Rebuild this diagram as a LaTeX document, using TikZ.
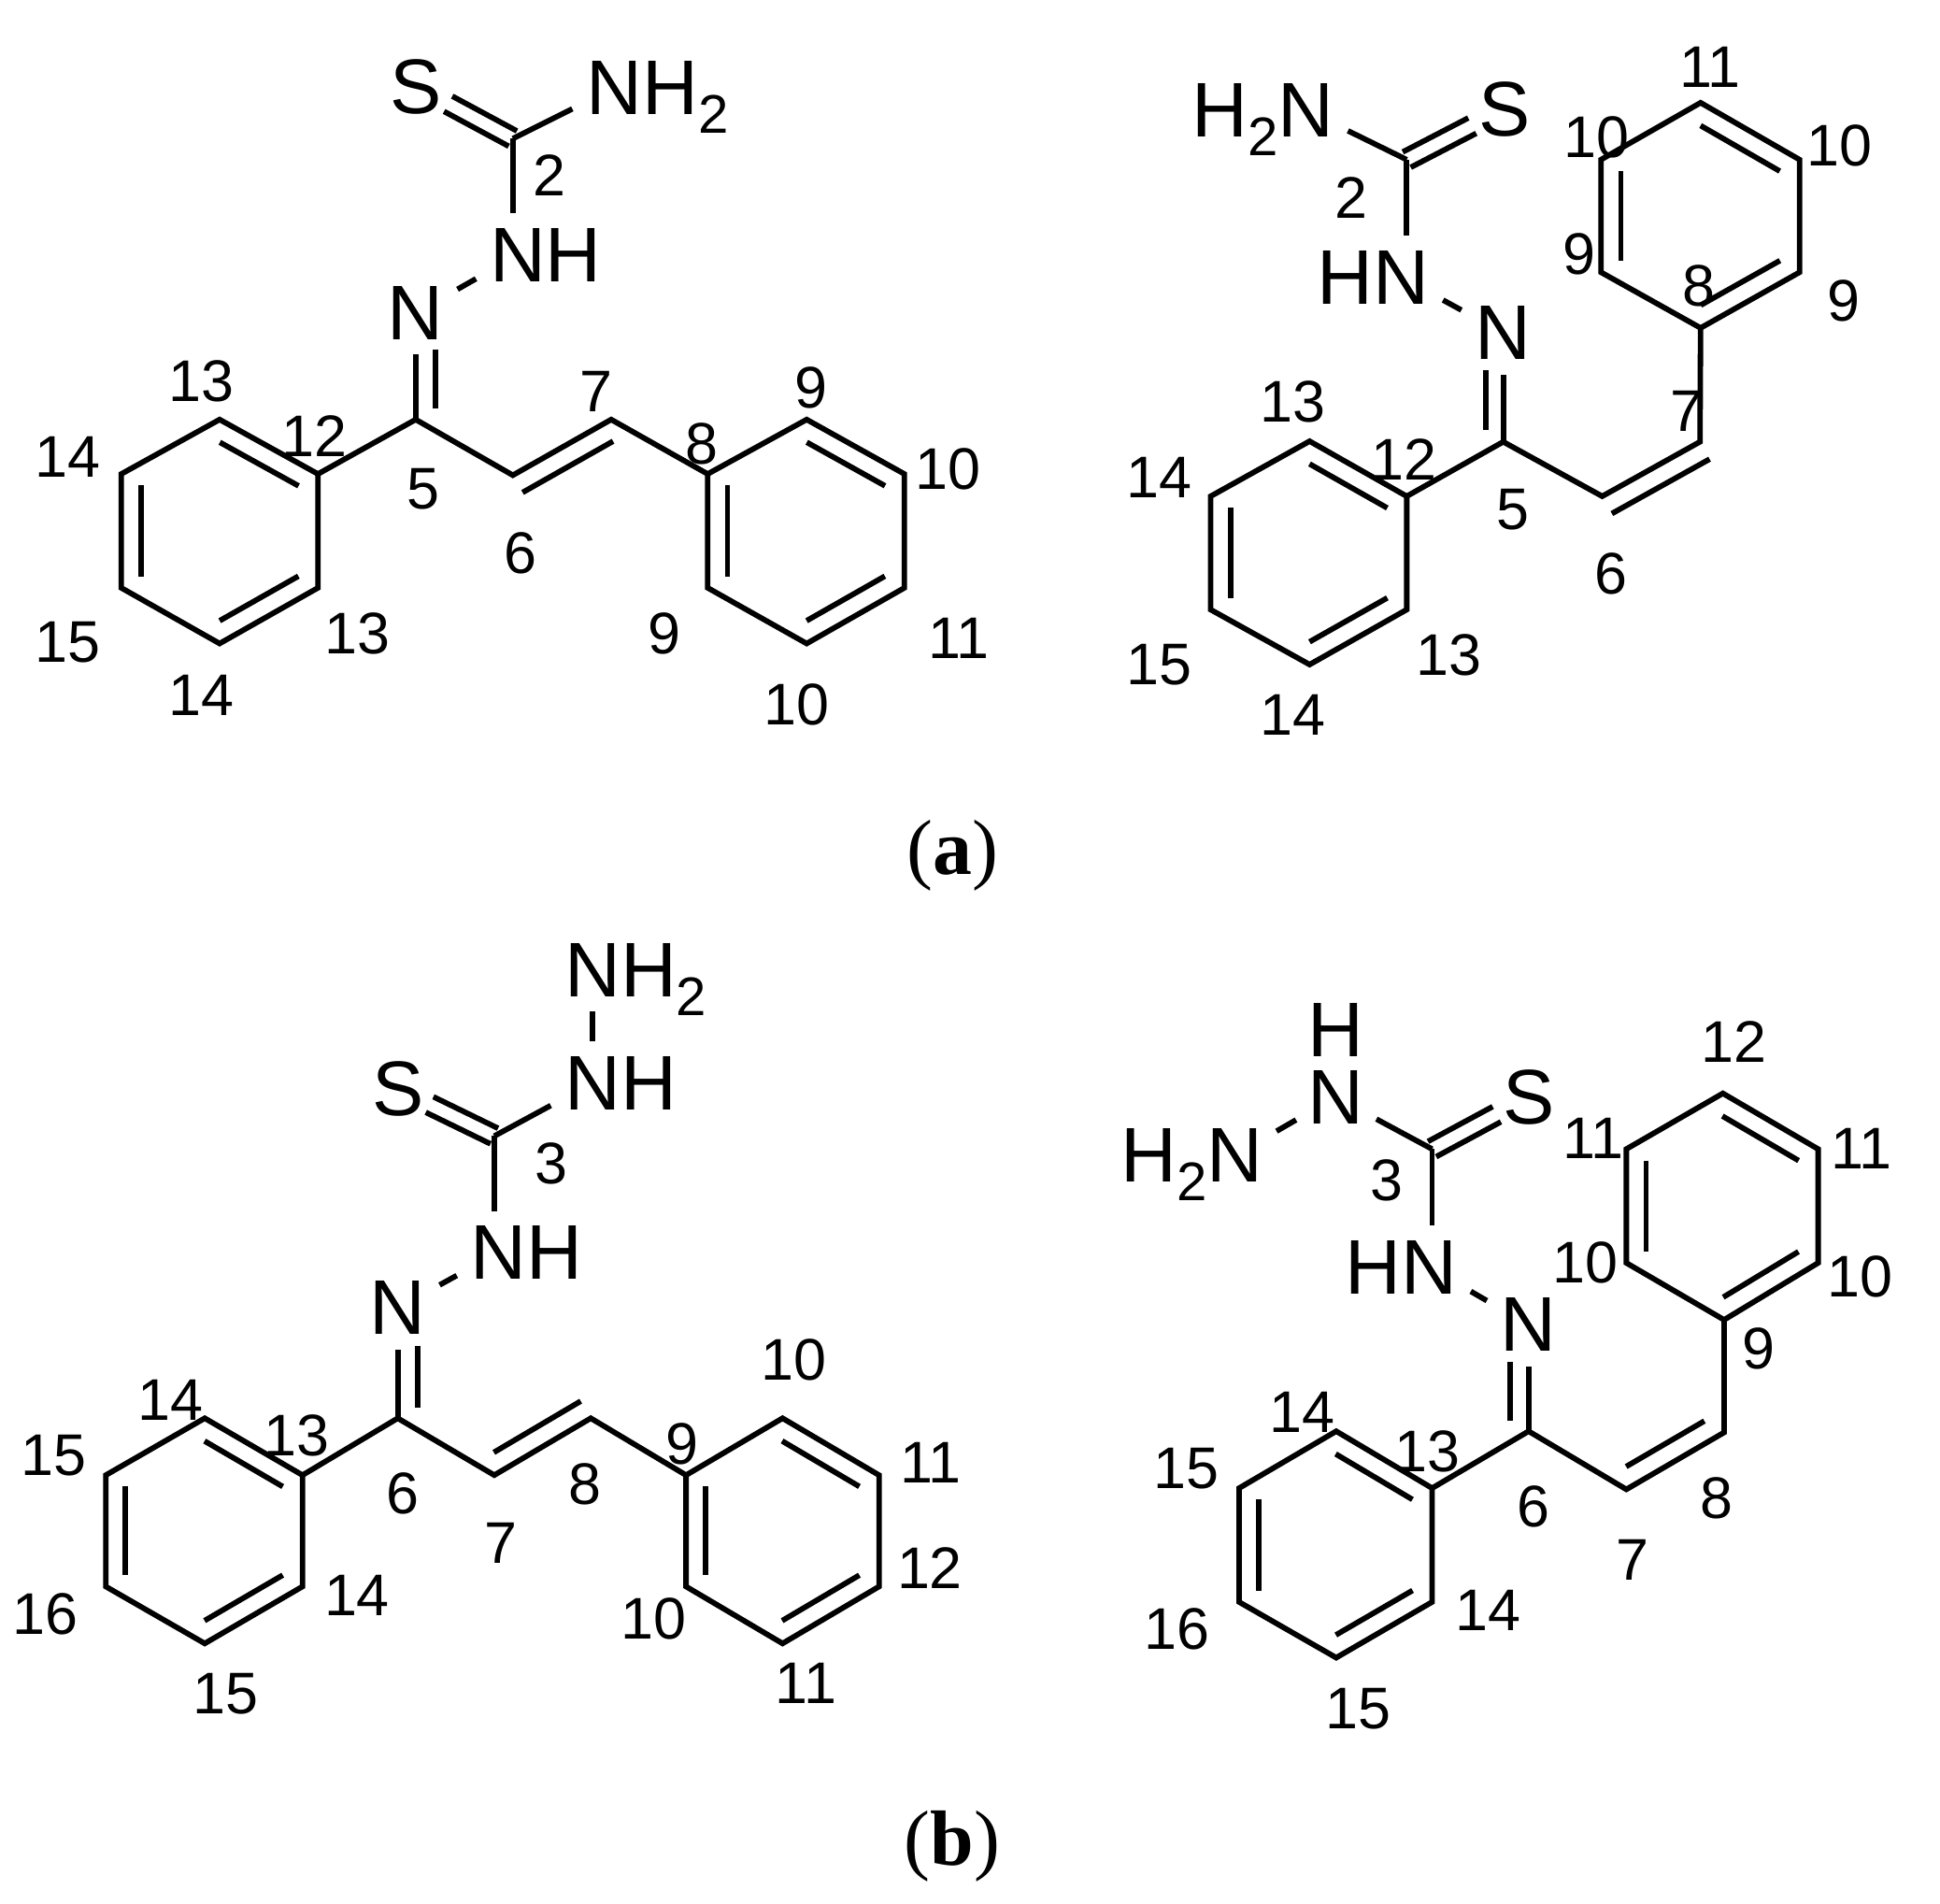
\documentclass[tikz,border=0pt]{standalone}
\usepackage{fontspec}
\setmainfont{Liberation Sans}
\newfontfamily\tagfont{Liberation Serif}
\usetikzlibrary{calc}
% second line of a double bond, on the left of #2 -> #3
\newcommand{\innerbond}[5][.16cm]{\path [line] ($(#2)!#4!(#3)!#1!90:(#3)$) -- ($(#3)!#5!(#2)!#1!-90:(#2)$);}
\newcommand{\subtwo}{\smash{\raisebox{-4.3pt}{\fontsize{12.5pt}{12.5pt}\selectfont 2}}}

\begin{document}
\begin{tikzpicture}[x=0.01cm, y=-0.01cm]
% Define block styles
\tikzstyle{line} = [draw, line width=1.25pt]
\tikzstyle{hbond} = [line, shorten >=.06cm]
\tikzstyle{nnbond} = [line, shorten <=.06cm, shorten >=.06cm]
\tikzstyle{atom} = [font=\fontsize{17.8pt}{17.8pt}\selectfont, inner sep=1.5pt]
\tikzstyle{num} = [font=\fontsize{13.5pt}{13.5pt}\selectfont, inner sep=0pt]
\tikzstyle{panel} = [font=\fontsize{18pt}{18pt}\selectfont\tagfont, inner sep=0pt]
\useasboundingbox (0,0) rectangle (1568,1538);

    % Top left molecule: carbon positions
    \coordinate (aC2) at (414.5,112);
    \coordinate (aC5) at (336,339);
    \coordinate (aC6) at (414.5,384);
    \coordinate (aC7) at (494,339);
    \coordinate (aP1) at (177.5,339);
    \coordinate (aP2) at (98,383);
    \coordinate (aP3) at (98,475);
    \coordinate (aP4) at (177.5,520);
    \coordinate (aP5) at (257,475);
    \coordinate (aP6) at (257,383);
    \coordinate (aQ1) at (652,339);
    \coordinate (aQ2) at (572,383);
    \coordinate (aQ3) at (572,475);
    \coordinate (aQ4) at (652,520);
    \coordinate (aQ5) at (731,475);
    \coordinate (aQ6) at (731,383);
    % Place nodes
    \node [atom] (aS) at (336.5,70) {S};
    \node [atom] (aNH2) at (496.5,71) {N\rlap{H\subtwo}};
    \node [atom] (aNH) at (418.5,206) {N\rlap{H}};
    \node [atom] (aN) at (336,253) {N};
    \node [num] (aN2) at (444,142) {2};
    \node [num] (aN5) at (342,395) {5};
    \node [num] (aN6) at (421,447) {6};
    \node [num] (aN7) at (482,316) {7};
    \node [num] (aN8) at (567,359) {8};
    \node [num] (aN9a) at (655.6,313) {9};
    \node [num] (aN9b) at (537,512) {9};
    \node [num] (aN10a) at (766,379) {10};
    \node [num] (aN10b) at (644,569) {10};
    \node [num] (aN11) at (775,516) {11};
    \node [num] (aN12) at (254,352) {12};
    \node [num] (aN13a) at (163,308) {13};
    \node [num] (aN13b) at (289,512) {13};
    \node [num] (aN14a) at (55,369) {14};
    \node [num] (aN14b) at (163,561.5) {14};
    \node [num] (aN15) at (55,519) {15};
    \node [panel] (aTag) at (770,691) {(\textbf{a})};
    % Draw edges
    \path [line] (aP1) -- (aP2) -- (aP3) -- (aP4) -- (aP5) -- (aP6) -- cycle;
    \path [line] (aQ1) -- (aQ2) -- (aQ3) -- (aQ4) -- (aQ5) -- (aQ6) -- cycle;
    \innerbond{aP2}{aP3}{.1}{.1}
    \innerbond{aP4}{aP5}{.1}{.1}
    \innerbond{aP6}{aP1}{.1}{.1}
    \innerbond{aQ2}{aQ3}{.1}{.1}
    \innerbond{aQ4}{aQ5}{.1}{.1}
    \innerbond{aQ6}{aQ1}{.1}{.1}
    \path [line] (aP6) -- (aC5) -- (aC6) -- (aC7) -- (aQ2);
    \innerbond{aC7}{aC6}{.08}{0}
    \path [hbond] (aC5) -- (aN);
    \innerbond{aN}{aC5}{.34}{.1}
    \path [nnbond] (aN) -- (aNH);
    \path [hbond] (aC2) -- (aC2 |- aNH.north);
    \path [hbond] (aC2) -- (aNH2);
    \innerbond[.07cm]{aC2}{aS}{0}{.33}
    \innerbond[.07cm]{aS}{aC2}{.33}{0}

    % Top right molecule: carbon positions
    \coordinate (bC2) at (1137,129);
    \coordinate (bC5) at (1215,357);
    \coordinate (bC6) at (1295,401);
    \coordinate (bC7) at (1374,357);
    \coordinate (bP1) at (1058.5,356.5);
    \coordinate (bP2) at (978.5,401);
    \coordinate (bP3) at (978.5,492.6);
    \coordinate (bP4) at (1058.5,537);
    \coordinate (bP5) at (1137,492.6);
    \coordinate (bP6) at (1137,401);
    \coordinate (bQ1) at (1374.5,83);
    \coordinate (bQ2) at (1294,129);
    \coordinate (bQ3) at (1294,220);
    \coordinate (bQ4) at (1374.5,265);
    \coordinate (bQ5) at (1454.5,220);
    \coordinate (bQ6) at (1454.5,129);
    % Place nodes
    \node [atom] (bS) at (1216,88) {S};
    \node [atom] (bNH2) at (1055.5,89) {\llap{H\subtwo}N};
    \node [atom] (bNH) at (1132.5,224) {\llap{H}N};
    \node [atom] (bN) at (1215,269) {N};
    \node [num] (bN2) at (1092,160) {2};
    \node [num] (bN5) at (1223,412) {5};
    \node [num] (bN6) at (1302,464) {6};
    \node [num] (bN7) at (1363,332) {7};
    \node [num] (bN8) at (1373,231) {8};
    \node [num] (bN9a) at (1276.5,205) {9};
    \node [num] (bN9b) at (1490,243) {9};
    \node [num] (bN10a) at (1290.6,111) {10};
    \node [num] (bN10b) at (1487,118) {10};
    \node [num] (bN11) at (1382,54) {11};
    \node [num] (bN12) at (1135,371) {12};
    \node [num] (bN13a) at (1045,325) {13};
    \node [num] (bN13b) at (1171,529) {13};
    \node [num] (bN14a) at (937,385.6) {14};
    \node [num] (bN14b) at (1045,578) {14};
    \node [num] (bN15) at (937,537) {15};
    % Draw edges
    \path [line] (bP1) -- (bP2) -- (bP3) -- (bP4) -- (bP5) -- (bP6) -- cycle;
    \path [line] (bQ1) -- (bQ2) -- (bQ3) -- (bQ4) -- (bQ5) -- (bQ6) -- cycle;
    \innerbond{bP2}{bP3}{.1}{.1}
    \innerbond{bP4}{bP5}{.1}{.1}
    \innerbond{bP6}{bP1}{.1}{.1}
    \innerbond{bQ2}{bQ3}{.1}{.1}
    \innerbond{bQ4}{bQ5}{.1}{.1}
    \innerbond{bQ6}{bQ1}{.1}{.1}
    \path [line] (bP6) -- (bC5) -- (bC6) -- (bC7) -- (bQ4);
    \innerbond{bC7}{bC6}{0}{0}
    \path [hbond] (bC5) -- (bN);
    \innerbond[.14cm]{bC5}{bN}{.11}{.34}
    \path [nnbond] (bN) -- (bNH);
    \path [hbond] (bC2) -- (bC2 |- bNH.north);
    \path [hbond] (bC2) -- (bNH2);
    \innerbond[.07cm]{bC2}{bS}{0}{.33}
    \innerbond[.07cm]{bS}{bC2}{.33}{0}

    % Bottom left molecule: carbon positions
    \begin{scope}[shift={(-.5,6)}]
    \coordinate (cC3) at (400,912);
    \coordinate (cC6) at (322,1140);
    \coordinate (cC7) at (400,1186);
    \coordinate (cC8) at (478,1140);
    \coordinate (cP1) at (166,1140);
    \coordinate (cP2) at (86,1186);
    \coordinate (cP3) at (86,1276);
    \coordinate (cP4) at (166,1322);
    \coordinate (cP5) at (245,1276);
    \coordinate (cP6) at (245,1186);
    \coordinate (cQ1) at (633,1140);
    \coordinate (cQ2) at (555,1186);
    \coordinate (cQ3) at (555,1276);
    \coordinate (cQ4) at (633,1322);
    \coordinate (cQ5) at (711,1276);
    \coordinate (cQ6) at (711,1186);
    % Place nodes
    \node [atom] (cS) at (322,874) {S};
    \node [atom] (cNH2) at (479.5,778) {N\rlap{H\subtwo}};
    \node [atom] (cNHa) at (479.5,869) {N\rlap{H}};
    \node [atom] (cNHb) at (403.5,1006) {N\rlap{H}};
    \node [atom] (cN) at (322,1051) {N};
    \node [num] (cN3) at (446,934) {3};
    \node [num] (cN6) at (326,1201) {6};
    \node [num] (cN7) at (405,1241) {7};
    \node [num] (cN8) at (473,1193) {8};
    \node [num] (cN9) at (552,1161) {9};
    \node [num] (cN10a) at (642,1093) {10};
    \node [num] (cN10b) at (529,1302) {10};
    \node [num] (cN11a) at (753,1176) {11};
    \node [num] (cN11b) at (652,1354) {11};
    \node [num] (cN12) at (752,1261) {12};
    \node [num] (cN13) at (240,1154) {13};
    \node [num] (cN14a) at (138,1125) {14};
    \node [num] (cN14b) at (289,1283.5) {14};
    \node [num] (cN15a) at (44,1170) {15};
    \node [num] (cN15b) at (183,1363) {15};
    \node [num] (cN16) at (37,1298) {16};
    \node [panel] (cTag) at (770,1486) {(\textbf{b})};
    \end{scope}
    % Draw edges
    \path [line] (cP1) -- (cP2) -- (cP3) -- (cP4) -- (cP5) -- (cP6) -- cycle;
    \path [line] (cQ1) -- (cQ2) -- (cQ3) -- (cQ4) -- (cQ5) -- (cQ6) -- cycle;
    \innerbond{cP2}{cP3}{.1}{.1}
    \innerbond{cP4}{cP5}{.1}{.1}
    \innerbond{cP6}{cP1}{.1}{.1}
    \innerbond{cQ2}{cQ3}{.1}{.1}
    \innerbond{cQ4}{cQ5}{.1}{.1}
    \innerbond{cQ6}{cQ1}{.1}{.1}
    \path [line] (cP6) -- (cC6) -- (cC7) -- (cC8) -- (cQ2);
    \innerbond{cC7}{cC8}{.1}{0}
    \path [hbond] (cC6) -- (cN);
    \innerbond{cN}{cC6}{.34}{.1}
    \path [nnbond] (cN) -- (cNHb);
    \path [hbond] (cC3) -- (cC3 |- cNHb.north);
    \path [hbond] (cC3) -- (cNHa);
    \path [nnbond] (cNHa) -- (cNH2);
    \innerbond[.07cm]{cC3}{cS}{0}{.33}
    \innerbond[.07cm]{cS}{cC3}{.33}{0}

    % Bottom right molecule: carbon positions
    \begin{scope}[shift={(1.5,6.5)}]
    \coordinate (dC3) at (1156,922);
    \coordinate (dC6) at (1234,1150);
    \coordinate (dC7) at (1313,1197);
    \coordinate (dC8) at (1392,1151);
    \coordinate (dP1) at (1078.5,1150);
    \coordinate (dP2) at (1000,1196);
    \coordinate (dP3) at (1000,1288);
    \coordinate (dP4) at (1078.5,1333);
    \coordinate (dP5) at (1156,1288);
    \coordinate (dP6) at (1156,1196);
    \coordinate (dQ1) at (1391,877);
    \coordinate (dQ2) at (1313,922);
    \coordinate (dQ3) at (1313,1014);
    \coordinate (dQ4) at (1392,1060);
    \coordinate (dQ5) at (1468,1014);
    \coordinate (dQ6) at (1468,922);
    % Place nodes
    \node [atom] (dS) at (1234,880) {S};
    \node [atom] (dNH2) at (996.5,927) {\llap{H\subtwo}N};
    \node [atom, inner sep=0pt] (dNa) at (1078,880) {N};
    \node [atom, inner sep=0pt] (dH) at (1078,826) {H};
    \node [atom] (dNHb) at (1153.5,1017.5) {\llap{H}N};
    \node [atom] (dN) at (1234,1064) {N};
    \node [num] (dN3) at (1119,947) {3};
    \node [num] (dN6) at (1238,1211) {6};
    \node [num] (dN7) at (1318,1254) {7};
    \node [num] (dN8) at (1386,1204) {8};
    \node [num] (dN9) at (1420,1083) {9};
    \node [num] (dN10a) at (1280,1014) {10};
    \node [num] (dN10b) at (1502,1025) {10};
    \node [num] (dN11a) at (1286,913) {11};
    \node [num] (dN11b) at (1503,922) {11};
    \node [num] (dN12) at (1400,835) {12};
    \node [num] (dN13) at (1152,1166) {13};
    \node [num] (dN14a) at (1051,1135) {14};
    \node [num] (dN14b) at (1201,1294.5) {14};
    \node [num] (dN15a) at (957,1180) {15};
    \node [num] (dN15b) at (1096.5,1374) {15};
    \node [num] (dN16) at (950,1309.5) {16};
    \end{scope}
    % Draw edges
    \path [line] (dP1) -- (dP2) -- (dP3) -- (dP4) -- (dP5) -- (dP6) -- cycle;
    \path [line] (dQ1) -- (dQ2) -- (dQ3) -- (dQ4) -- (dQ5) -- (dQ6) -- cycle;
    \innerbond{dP2}{dP3}{.1}{.1}
    \innerbond{dP4}{dP5}{.1}{.1}
    \innerbond{dP6}{dP1}{.1}{.1}
    \innerbond{dQ2}{dQ3}{.1}{.1}
    \innerbond{dQ4}{dQ5}{.1}{.1}
    \innerbond{dQ6}{dQ1}{.1}{.1}
    \path [line] (dP6) -- (dC6) -- (dC7) -- (dC8) -- (dQ4);
    \innerbond{dC7}{dC8}{.1}{.1}
    \path [hbond] (dC6) -- (dN);
    \innerbond[.15cm]{dC6}{dN}{.1}{.35}
    \path [nnbond] (dN) -- (dNHb);
    \path [hbond] (dC3) -- (dC3 |- dNHb.north);
    \path [hbond, shorten >=.11cm] (dC3) -- (dNa);
    \path [nnbond, shorten <=.1cm] (dNa) -- (dNH2);
    \innerbond[.07cm]{dC3}{dS}{0}{.33}
    \innerbond[.07cm]{dS}{dC3}{.33}{0}
\end{tikzpicture}
\end{document}
